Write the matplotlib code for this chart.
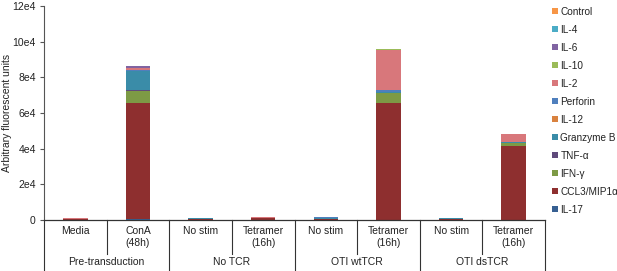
import matplotlib
matplotlib.use("Agg")
import matplotlib.pyplot as plt
from matplotlib.patches import Patch
import numpy as np

plt.rcParams['font.family'] = ['Liberation Sans', 'DejaVu Sans']

categories = ["Media", "ConA\n(48h)", "No stim", "Tetramer\n(16h)",
              "No stim", "Tetramer\n(16h)", "No stim", "Tetramer\n(16h)"]
groups = ["Pre-transduction", "No TCR", "OTI wtTCR", "OTI dsTCR"]

# stacking order bottom -> top
series_names = ["IL-17", "CCL3/MIP1\u03b1", "IFN-\u03b3", "TNF-\u03b1", "Granzyme B",
                "IL-12", "Perforin", "IL-2", "IL-10", "IL-6", "IL-4", "Control"]
IL17    = [0,    300,   0,    0,    0,    200,   0,    100]
CCL3    = [500,  65500, 700,  900,  400,  65500, 600,  41600]
IFNg    = [0,    6500,  0,    0,    0,    5300,  0,    1500]
TNFa    = [0,    500,   0,    0,    0,    300,   0,    200]
GranzB  = [0,    11000, 300,  300,  800,  600,   300,  300]
IL12    = [0,    0,     0,    0,    0,    100,   0,    0]
Perforin= [0,    200,   0,    0,    400,  800,   0,    300]
IL2     = [400,  1000,  200,  600,  200,  22800, 300,  4200]
IL10    = [0,    0,     0,    0,    0,    200,   0,    100]
IL6     = [0,    1100,  0,    0,    0,    0,     0,    0]
IL4     = [0,    0,     0,    0,    0,    0,     0,    0]
Control = [0,    150,   0,    0,    0,    100,   0,    100]
series = [IL17, CCL3, IFNg, TNFa, GranzB, IL12, Perforin, IL2, IL10, IL6, IL4, Control]
colors = ["#376092", "#8E2F2F", "#7D9A45", "#5F4A7B", "#3A8CA8", "#D9823F",
          "#4F7FBD", "#D8777B", "#9BBB59", "#8064A2", "#4BACC6", "#F79646"]

W, H = 617, 271
fig = plt.figure(figsize=(W/100, H/100), dpi=100)
L, R, T, B = 44, 545, 6, 220
ax = fig.add_axes([L/W, 1-B/H, (R-L)/W, (B-T)/H])

x = np.arange(len(categories))
bottom = np.zeros(len(categories))
for name, vals, c in zip(series_names, series, colors):
    ax.bar(x, vals, bottom=bottom, width=0.39, color=c, linewidth=0, label=name)
    bottom += np.array(vals)

ax.set_xlim(-0.5, len(categories)-0.5)
ax.set_ylim(0, 120000)
ax.set_yticks(np.arange(0, 120001, 20000))
ax.set_yticklabels(["0", "2e4", "4e4", "6e4", "8e4", "10e4", "12e4"], fontsize=7.5, color="#222222")
ax.tick_params(axis='y', length=3, width=0.8, color="#555555", pad=3)
ax.set_xticks([])
for s in ["top", "right"]:
    ax.spines[s].set_visible(False)
ax.spines["left"].set_color("#555555")
ax.spines["bottom"].set_color("#333333")
ax.spines["left"].set_linewidth(0.8)
ax.spines["bottom"].set_linewidth(0.9)
ax.set_ylabel("Arbitrary fluorescent units", fontsize=7.5, color="#222222")
ax.yaxis.set_label_coords(-(L - 12) / (R - L), 0.5)

trans = ax.get_xaxis_transform()
ax_h = (B - T)
def yax(py):  # pixel row -> axes fraction
    return (B - py) / ax_h

for i in range(len(categories) + 1):
    xb = i - 0.5
    y1 = yax(271) if i % 2 == 0 else yax(254)
    ax.plot([xb, xb], [0, y1], transform=trans, color="#333333", lw=0.8, clip_on=False)

for i, lab in enumerate(categories):
    ax.text(i, yax(226), lab, transform=trans, ha="center", va="top",
            fontsize=7.5, color="#222222", linespacing=1.25)
for g, lab in enumerate(groups):
    ax.text(2*g + 0.5, yax(262), lab, transform=trans, ha="center", va="center",
            fontsize=7.5, color="#222222")

handles = [Patch(facecolor=c, edgecolor='none', label=n) for n, c in zip(series_names, colors)][::-1]
fig.legend(handles=handles, loc="upper left", bbox_to_anchor=(552/W, 1-7/H),
           frameon=False, fontsize=7.2, handlelength=0.55, handleheight=0.55,
           handletextpad=0.3, labelspacing=0.8, borderaxespad=0, borderpad=0,
           labelcolor="#222222")

fig.savefig("out.png", dpi=100)
